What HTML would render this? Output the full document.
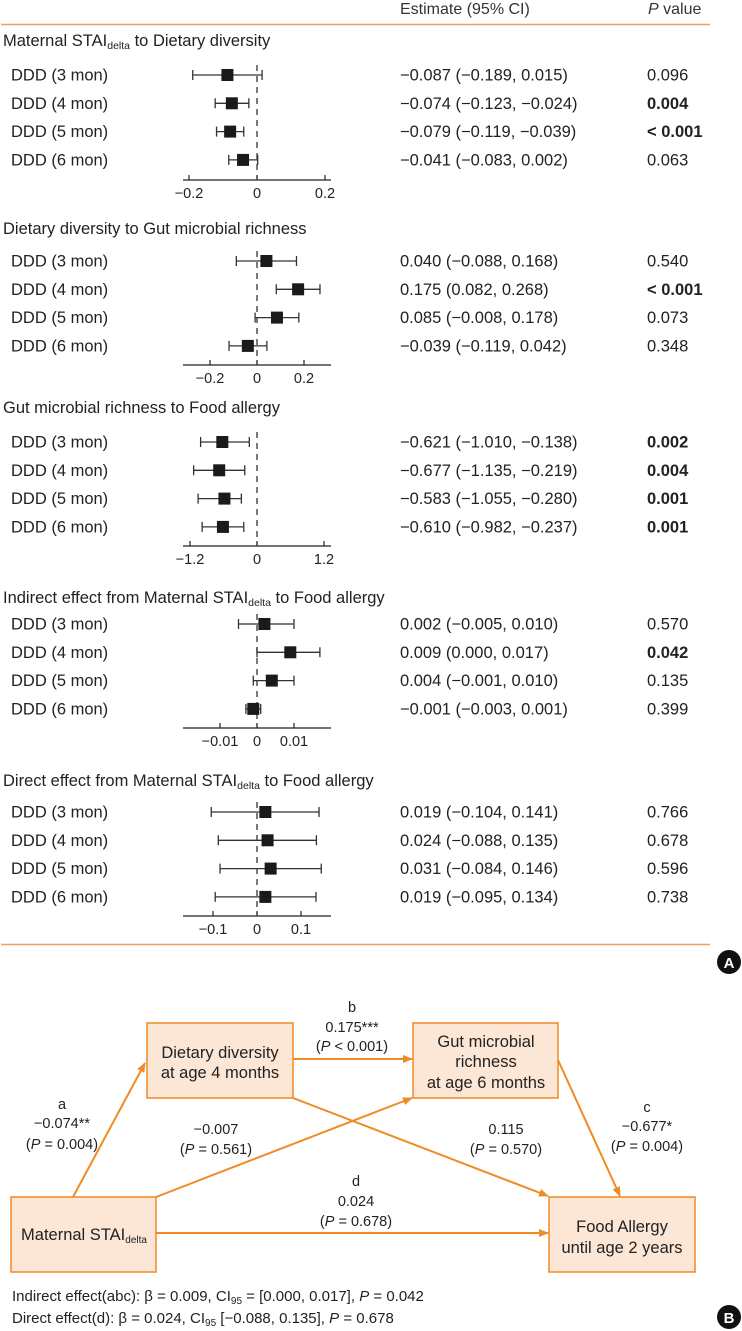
<!DOCTYPE html>
<html><head><meta charset="utf-8">
<style>
html,body{margin:0;padding:0;background:#fff;}
body{width:742px;height:1331px;overflow:hidden;position:relative;font-family:"Liberation Sans",sans-serif;}
svg{position:absolute;left:0;top:0;}
</style></head>
<body>
<svg id="fig" width="742" height="1331" viewBox="0 0 742 1331" font-family="Liberation Sans, sans-serif">
  <g id="partA"></g>
  <g id="partB">
    <defs>
      <marker id="ah" markerWidth="10" markerHeight="10" refX="9" refY="5" orient="auto" markerUnits="userSpaceOnUse">
        <path d="M0,1 L10,5 L0,9 Z" fill="#f08a24"/>
      </marker>
    </defs>
    <g stroke="#f08a24" stroke-width="2" fill="none">
      <line x1="73" y1="1197" x2="145" y2="1063" marker-end="url(#ah)"/>
      <line x1="293" y1="1059" x2="412" y2="1059" marker-end="url(#ah)"/>
      <line x1="156" y1="1197" x2="412" y2="1098" marker-end="url(#ah)"/>
      <line x1="293" y1="1098" x2="548" y2="1196" marker-end="url(#ah)"/>
      <line x1="558" y1="1060" x2="620" y2="1196" marker-end="url(#ah)"/>
      <line x1="156" y1="1233" x2="548" y2="1233" marker-end="url(#ah)"/>
    </g>
    <g fill="#fce6d5" stroke="#f08a24" stroke-width="1.5">
      <rect x="147" y="1023" width="146" height="75"/>
      <rect x="413" y="1023" width="145" height="75"/>
      <rect x="11" y="1197" width="145" height="75"/>
      <rect x="549" y="1197" width="146" height="75"/>
    </g>
    <g font-size="16.5" fill="#222" text-anchor="middle">
      <text x="220" y="1058">Dietary diversity</text>
      <text x="220" y="1078">at age 4 months</text>
      <text x="486" y="1047">Gut microbial</text>
      <text x="486" y="1067">richness</text>
      <text x="486" y="1088">at age 6 months</text>
      <text x="84" y="1240">Maternal STAI<tspan font-size="10" dy="3">delta</tspan></text>
      <text x="622" y="1232">Food Allergy</text>
      <text x="622" y="1253">until age 2 years</text>
    </g>
    <g font-size="14.5" fill="#222" text-anchor="middle">
      <text x="62" y="1109">a</text>
      <text x="62" y="1128">−0.074**</text>
      <text x="62" y="1149">(<tspan font-style="italic">P</tspan> = 0.004)</text>
      <text x="352" y="1012">b</text>
      <text x="352" y="1032">0.175***</text>
      <text x="352" y="1051">(<tspan font-style="italic">P</tspan> &lt; 0.001)</text>
      <text x="216" y="1134">−0.007</text>
      <text x="216" y="1154">(<tspan font-style="italic">P</tspan> = 0.561)</text>
      <text x="506" y="1134">0.115</text>
      <text x="506" y="1154">(<tspan font-style="italic">P</tspan> = 0.570)</text>
      <text x="647" y="1112">c</text>
      <text x="647" y="1131">−0.677*</text>
      <text x="647" y="1151">(<tspan font-style="italic">P</tspan> = 0.004)</text>
      <text x="356" y="1186">d</text>
      <text x="356" y="1206">0.024</text>
      <text x="356" y="1226">(<tspan font-style="italic">P</tspan> = 0.678)</text>
    </g>
    <g font-size="15" fill="#222">
      <text x="12" y="1301">Indirect effect(abc): β = 0.009, CI<tspan font-size="10" dy="3">95</tspan><tspan dy="-3"> = [0.000, 0.017], </tspan><tspan font-style="italic">P</tspan> = 0.042</text>
      <text x="12" y="1323">Direct effect(d): β = 0.024, CI<tspan font-size="10" dy="3">95</tspan><tspan dy="-3"> [−0.088, 0.135], </tspan><tspan font-style="italic">P</tspan> = 0.678</text>
    </g>
    <circle cx="729" cy="1317" r="12" fill="#111"/>
    <text x="729" y="1323" font-size="15" font-weight="bold" fill="#fff" text-anchor="middle">B</text>
  </g>
</svg>
<script>
// Panel titles
const panelTitles = ["Maternal STAI|delta| to Dietary diversity","Dietary diversity to Gut microbial richness","Gut microbial richness to Food allergy","Indirect effect from Maternal STAI|delta| to Food allergy","Direct effect from Maternal STAI|delta| to Food allergy"];
const rowLabels = ["DDD (3 mon)","DDD (4 mon)","DDD (5 mon)","DDD (6 mon)"];
// Estimates per panel
const est1 = [-0.087,-0.074,-0.079,-0.041];
const lo1 = [-0.189,-0.123,-0.119,-0.083];
const hi1 = [0.015,-0.024,-0.039,0.002];
const p1 = ["0.096","0.004","< 0.001","0.063"];
const est2 = [0.040,0.175,0.085,-0.039];
const lo2 = [-0.088,0.082,-0.008,-0.119];
const hi2 = [0.168,0.268,0.178,0.042];
const p2 = ["0.540","< 0.001","0.073","0.348"];
const est3 = [-0.621,-0.677,-0.583,-0.610];
const lo3 = [-1.010,-1.135,-1.055,-0.982];
const hi3 = [-0.138,-0.219,-0.280,-0.237];
const p3 = ["0.002","0.004","0.001","0.001"];
const est4 = [0.002,0.009,0.004,-0.001];
const lo4 = [-0.005,0.000,-0.001,-0.003];
const hi4 = [0.010,0.017,0.010,0.001];
const p4 = ["0.570","0.042","0.135","0.399"];
const est5 = [0.019,0.024,0.031,0.019];
const lo5 = [-0.104,-0.088,-0.084,-0.095];
const hi5 = [0.141,0.135,0.146,0.134];
const p5 = ["0.766","0.678","0.596","0.738"];
const bold1 = [false,true,true,false];
const bold2 = [false,true,false,false];
const bold3 = [true,true,true,true];
const bold4 = [false,true,false,false];
const bold5 = [false,false,false,false];
const ticks1 = [-0.2,0,0.2], tickLab1 = ["−0.2","0","0.2"];
const ticks2 = [-0.2,0,0.2], tickLab2 = ["−0.2","0","0.2"];
const ticks3 = [-1.2,0,1.2], tickLab3 = ["−1.2","0","1.2"];
const ticks4 = [-0.01,0,0.01], tickLab4 = ["−0.01","0","0.01"];
const ticks5 = [-0.1,0,0.1], tickLab5 = ["−0.1","0","0.1"];

const NS="http://www.w3.org/2000/svg";
const A=document.getElementById('partA');
function mk(tag,attrs,parent){const e=document.createElementNS(NS,tag);for(const k in attrs)e.setAttribute(k,attrs[k]);(parent||A).appendChild(e);return e;}
function fmt(v){return (v<0?"−":"")+Math.abs(v).toFixed(3);}

// layout (not data)
const layout=[
 {titleY:46,rowY0:75,axisY:180,pxPerUnit:68/0.2},
 {titleY:234,rowY0:261,axisY:365,pxPerUnit:47/0.2},
 {titleY:413,rowY0:442,axisY:546,pxPerUnit:67/1.2},
 {titleY:603,rowY0:624,axisY:728,pxPerUnit:37/0.01},
 {titleY:786,rowY0:812,axisY:916,pxPerUnit:44/0.1}
];
const E=[est1,est2,est3,est4,est5],L=[lo1,lo2,lo3,lo4,lo5],H=[hi1,hi2,hi3,hi4,hi5],P=[p1,p2,p3,p4,p5],B=[bold1,bold2,bold3,bold4,bold5];
const T=[ticks1,ticks2,ticks3,ticks4,ticks5],TL=[tickLab1,tickLab2,tickLab3,tickLab4,tickLab5];
const X0=257,rowStep=28.3;

// header
let t=mk('text',{x:400,y:14,'font-size':16,fill:'#333'});t.textContent="Estimate (95% CI)";


t=mk('text',{x:648,y:14,'font-size':16,fill:'#333'});


t.innerHTML='<tspan font-style="italic">P</tspan> value';
let ln=mk('line',{x1:1,y1:24.5,x2:710,y2:24.5,stroke:'#f5a05a','stroke-width':1.5});


ln=mk('line',{x1:1,y1:944.5,x2:710,y2:944.5,stroke:'#f5a05a','stroke-width':1.5});


let c=mk('circle',{cx:729,cy:962,r:12,fill:'#111'});


t=mk('text',{x:729,y:968,'font-size':15,'font-weight':'bold',fill:'#fff','text-anchor':'middle'});t.textContent='A';



for(let p=0;p<5;p++){
  const lay=layout[p];
  const g=mk('g',{});
  
  
  const sx=v=>X0+v*lay.pxPerUnit;
  const parts=panelTitles[p].split('|');
  const tt=mk('text',{x:3,y:lay.titleY,'font-size':16.5,fill:'#222'},g);
  
  
  tt.innerHTML=parts.length>1?parts[0]+'<tspan font-size="10.5" dy="3">'+parts[1]+'</tspan><tspan dy="-3">'+parts[2]+'</tspan>':parts[0];
  const ax=mk('line',{x1:183,y1:lay.axisY,x2:331,y2:lay.axisY,stroke:'#222','stroke-width':1.3},g);
  
  
  T[p].forEach((v,i)=>{
    const tk=mk('line',{x1:sx(v),y1:lay.axisY-5,x2:sx(v),y2:lay.axisY,stroke:'#222','stroke-width':1.2},g);
    
    
    const tl=mk('text',{x:sx(v),y:lay.axisY+18,'font-size':14.5,fill:'#222','text-anchor':'middle'},g);
    tl.textContent=TL[p][i];
    
    
  });
  const dl=mk('line',{x1:X0,y1:lay.rowY0-10,x2:X0,y2:lay.axisY,stroke:'#333','stroke-width':1.3,'stroke-dasharray':'6,5'},g);
  
  
  for(let r=0;r<4;r++){
    const y=lay.rowY0+r*rowStep;
    const lb=mk('text',{x:11,y:y+5.5,'font-size':16.5,fill:'#222'},g);lb.textContent=rowLabels[r];
    
    
    const ci=mk('path',{d:`M${sx(L[p][r])},${y} H${sx(H[p][r])} M${sx(L[p][r])},${y-5} V${y+5} M${sx(H[p][r])},${y-5} V${y+5}`,stroke:'#333','stroke-width':1.3,fill:'none'},g);
    
    
    const pt=mk('rect',{x:sx(E[p][r])-6,y:y-6,width:12,height:12,fill:'#1a1a1a'},g);
    
    
    const es=mk('text',{x:400,y:y+5.5,'font-size':16.5,fill:'#222'},g);
    es.textContent=`${fmt(E[p][r])} (${fmt(L[p][r])}, ${fmt(H[p][r])})`;
    
    
    const pv=mk('text',{x:647,y:y+5.5,'font-size':16.5,fill:'#222','font-weight':B[p][r]?'bold':'normal'},g);
    pv.textContent=P[p][r];
    
    
  }
}
</script>
</body></html>
